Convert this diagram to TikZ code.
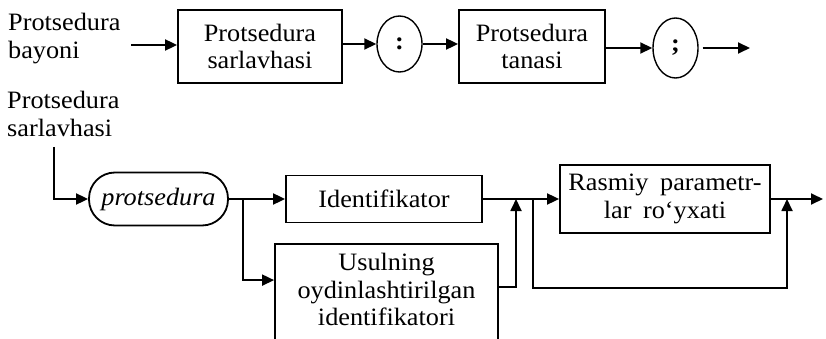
\documentclass[tikz,border=0pt]{standalone}
\usepackage{fontspec}
\setmainfont{Liberation Serif}[FakeStretch=1.05]
\usetikzlibrary{arrows.meta,shapes.geometric,calc}
\begin{document}
\begin{tikzpicture}[x=1pt,y=-1pt,
  txt/.style={font=\fontsize{25}{27.5}\selectfont, inner sep=0pt},
  box/.style={txt, draw, line width=1.8pt, align=center},
  oval/.style={txt, draw, ellipse, line width=1.4pt, inner sep=0pt, font=\fontsize{25}{27.5}\selectfont\bfseries},
  arr/.style={line width=1.8pt, -{Triangle[length=12pt,width=11pt]}},
  ln/.style={line width=1.8pt}]
\useasboundingbox (0,0) rectangle (826,339);
% top row
\node[txt, align=left, anchor=north west] (lbl1) at (8,13) {Protsedura\\bayoni};
\coordinate (s1) at (131,45);
\node[box, minimum width=164pt, minimum height=73pt] (box1) at (260,46.5) {Protsedura\\sarlavhasi};
\node[oval, minimum width=45pt, minimum height=56pt] (colon) at (399.5,44) {:};
\node[box, minimum width=146pt, minimum height=73pt] (box2) at (532,46.5) {Protsedura\\tanasi};
\node[oval, minimum width=45pt, minimum height=60pt] (semi) at (675.5,48) {;};
\coordinate (e1) at (750,48);
\draw[arr] (s1) -- (box1.west |- s1);
\draw[arr] (box1.east |- colon) -- (colon.west);
\draw[arr] (colon.east) -- (colon.east -| box2.west);
\draw[arr] (box2.east |- semi) -- (semi.west);
\draw[arr] ($(semi.east)+(4,0)$) -- (e1);
% bottom
\node[txt, align=left, anchor=north west] (lbl2) at (7,91) {Protsedura\\sarlavhasi};
\coordinate (k1) at (54,147);
\node[txt, draw, line width=1.8pt, rounded corners=26pt, minimum width=139pt, minimum height=53pt, font=\fontsize{25}{27.5}\selectfont\itshape] (proc) at (158.5,199) {protsedura};
\node[box, minimum width=196pt, minimum height=47pt] (ident) at (384,199) {Identifikator};
\node[box, minimum width=223pt, minimum height=100pt, text depth=9pt] (usul) at (386.5,294) {Usulning\\oydinlashtirilgan\\identifikatori};
\node[box, minimum width=210pt, minimum height=68pt] (rasm) at (665,199) {Rasmiy\hspace{5pt} parametr-\\lar\hspace{5pt} ro‘yxati};
\coordinate (b1) at (243,199);
\coordinate (j1) at (516,199);
\coordinate (j2) at (533,199);
\coordinate (j3) at (787,199);
\coordinate (e2) at (823,199);
\draw[arr] (k1) |- (proc.west);
\draw[arr] (proc.east) -- (ident.west);
\draw[arr] (b1) |- ($(usul.north west)+(0,37)$);
\draw[arr] (ident.east) -- (rasm.west);
\draw[arr] ($(usul.north east)+(0,44)$) -| (j1);
\draw[arr] (j2) -- ++(0,89) -| (j3);
\draw[arr] (rasm.east) -- (e2);
\end{tikzpicture}
\end{document}
